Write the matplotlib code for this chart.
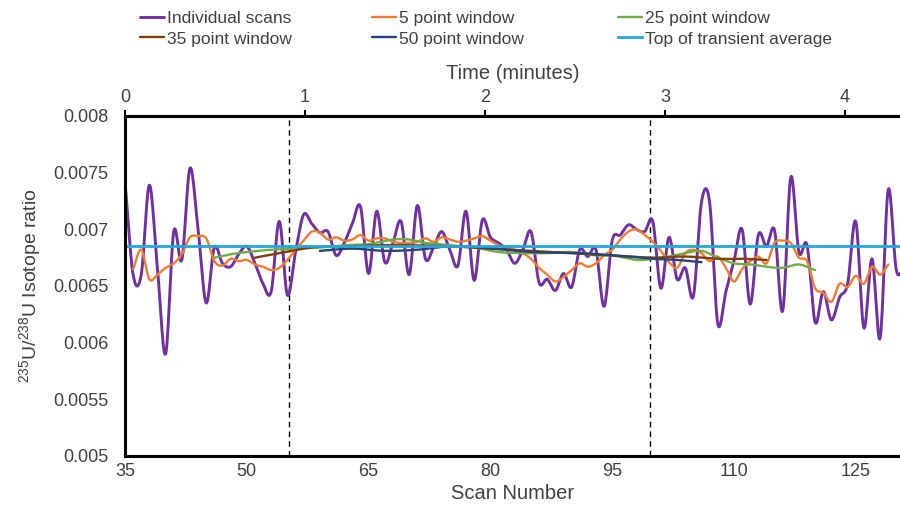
import numpy as np
import matplotlib
matplotlib.use('Agg')
import matplotlib.pyplot as plt

plt.rcParams['font.family'] = ['Liberation Sans', 'DejaVu Sans']
plt.rcParams['mathtext.fontset'] = 'custom'
plt.rcParams['mathtext.rm'] = 'Liberation Sans'
plt.rcParams['mathtext.it'] = 'Liberation Sans:italic'

TEXT = '#404040'

# --- data: 235U/238U ratio per scan ---
SCAN_START = 35
individual_scans = [
    0.00742, 0.00660, 0.00660, 0.00739, 0.00665, 0.00590, 0.00698, 0.00673, 0.00754, 0.00700,  # 35-44
    0.00635, 0.00684, 0.00670, 0.00667, 0.00678, 0.00685, 0.00670, 0.00652, 0.00645, 0.00707,  # 45-54
    0.00642, 0.00680, 0.00713, 0.00705, 0.00697, 0.00698, 0.00677, 0.00688, 0.00705, 0.00720,  # 55-64
    0.00661, 0.00716, 0.00671, 0.00688, 0.00707, 0.00660, 0.00721, 0.00674, 0.00684, 0.00698,  # 65-74
    0.00682, 0.00668, 0.00716, 0.00655, 0.00708, 0.00693, 0.00688, 0.00682, 0.00670, 0.00682,  # 75-84
    0.00698, 0.00653, 0.00656, 0.00646, 0.00661, 0.00649, 0.00682, 0.00676, 0.00682, 0.00632,  # 85-94
    0.00690, 0.00695, 0.00704, 0.00700, 0.00698, 0.00707, 0.00648, 0.00693, 0.00656, 0.00666,  # 95-104
    0.00641, 0.00724, 0.00724, 0.00617, 0.00645, 0.00672, 0.00700, 0.00634, 0.00695, 0.00685,  # 105-114
    0.00699, 0.00628, 0.00746, 0.00680, 0.00686, 0.00618, 0.00645, 0.00620, 0.00640, 0.00652,  # 115-124
    0.00707, 0.00613, 0.00674, 0.00604, 0.00735, 0.00664, 0.00668,                             # 125-131
]

# 5 point moving window, scans 36-129
W5_START = 36
window_5 = [
    0.00665, 0.00682, 0.00656, 0.00660, 0.00666, 0.00670, 0.00678, 0.00693, 0.00694, 0.00692,  # 36-45
    0.00672, 0.00668, 0.00674, 0.00672, 0.00673, 0.00669, 0.00667, 0.00664, 0.00666, 0.00673,  # 46-55
    0.00682, 0.00690, 0.00698, 0.00697, 0.00691, 0.00693, 0.00690, 0.00691, 0.00695, 0.00690,  # 56-65
    0.00692, 0.00692, 0.00689, 0.00688, 0.00688, 0.00689, 0.00692, 0.00689, 0.00693, 0.00691,  # 66-75
    0.00689, 0.00690, 0.00692, 0.00694, 0.00690, 0.00686, 0.00684, 0.00682, 0.00679, 0.00674,  # 76-85
    0.00666, 0.00660, 0.00654, 0.00658, 0.00664, 0.00670, 0.00667, 0.00670, 0.00677, 0.00682,  # 86-95
    0.00691, 0.00698, 0.00700, 0.00695, 0.00689, 0.00681, 0.00671, 0.00666, 0.00679, 0.00682,  # 96-105
    0.00679, 0.00672, 0.00676, 0.00666, 0.00654, 0.00665, 0.00672, 0.00676, 0.00670, 0.00688,  # 106-115
    0.00690, 0.00688, 0.00675, 0.00672, 0.00648, 0.00644, 0.00636, 0.00652, 0.00649, 0.00659,  # 116-125
    0.00652, 0.00667, 0.00660, 0.00669,                                                        # 126-129
]

# wider windows are smooth, so a few scans are enough
w25_scans = [46, 48, 50, 53, 56, 59, 62, 65, 68, 70, 72, 75, 78, 81, 84, 87, 90, 93, 95,
             98, 100, 102, 104, 106, 108, 110, 112, 114, 116, 118, 120]
window_25 = [0.00675, 0.00678, 0.00680, 0.00682, 0.00683, 0.00684, 0.00686, 0.00687, 0.00691,
             0.00691, 0.00688, 0.00686, 0.00684, 0.00680, 0.00679, 0.00679, 0.00680, 0.00677,
             0.00677, 0.00673, 0.00674, 0.00676, 0.00679, 0.00681, 0.00675, 0.00670, 0.00669,
             0.00667, 0.00666, 0.00669, 0.00664]

w35_scans = [51, 54, 58, 62, 66, 70, 75, 80, 85, 90, 95, 100, 104, 108, 111, 114]
window_35 = [0.00675, 0.00679, 0.00684, 0.00685, 0.00686, 0.00686, 0.00685, 0.00683, 0.00681,
             0.00679, 0.00677, 0.00675, 0.00676, 0.00674, 0.00674, 0.00673]

w50_scans = [59, 63, 67, 71, 75, 79, 85, 91, 97, 100, 103, 106]
window_50 = [0.00681, 0.00683, 0.00681, 0.00682, 0.00685, 0.00684, 0.00680, 0.00679, 0.00676,
             0.00674, 0.00673, 0.00671]

transient_avg = 0.00685
transient_bounds = [55.2, 99.7]   # scan numbers bracketing the transient top

SCANS_PER_MIN = 22.17
X_MAX = 130.45
time_ticks = [0, 1, 2, 3, 4]
scan_ticks = [35, 50, 65, 80, 95, 110, 125]
ratio_ticks = [0.005, 0.0055, 0.006, 0.0065, 0.007, 0.0075, 0.008]
ratio_labels = ['0.005', '0.0055', '0.006', '0.0065', '0.007', '0.0075', '0.008']


def smooth_line(x, y, steps=16):
    """Catmull-Rom curve through the points (like a spreadsheet 'smoothed line')."""
    x = np.asarray(x, float)
    y = np.asarray(y, float)
    px = np.concatenate([[2 * x[0] - x[1]], x, [2 * x[-1] - x[-2]]])
    py = np.concatenate([[2 * y[0] - y[1]], y, [2 * y[-1] - y[-2]]])
    t = np.linspace(0, 1, steps, endpoint=False)
    xs, ys = [], []
    for i in range(1, len(px) - 2):
        for p, out in ((px, xs), (py, ys)):
            p0, p1, p2, p3 = p[i - 1], p[i], p[i + 1], p[i + 2]
            out.append(0.5 * (2 * p1 + (-p0 + p2) * t
                              + (2 * p0 - 5 * p1 + 4 * p2 - p3) * t ** 2
                              + (-p0 + 3 * p1 - 3 * p2 + p3) * t ** 3))
    xs.append([x[-1]])
    ys.append([y[-1]])
    return np.concatenate(xs), np.concatenate(ys)


fig = plt.figure(figsize=(9, 5.14), dpi=100)
ax = fig.add_axes([125 / 900, 58 / 514, 775 / 900, 340 / 514])

scans = np.arange(SCAN_START, SCAN_START + len(individual_scans))
w5 = np.arange(W5_START, W5_START + len(window_5))

series = [
    (scans, individual_scans, '#7030a0', 2.1, 'Individual scans'),
    (w5, window_5, '#ed7d31', 1.7, '5 point window'),
    (w25_scans, window_25, '#70ad47', 1.7, '25 point window'),
    (w35_scans, window_35, '#843c0c', 1.7, '35 point window'),
    (w50_scans, window_50, '#264478', 1.7, '50 point window'),
]
handles = {}
for x, y, color, lw, label in series:
    sx, sy = smooth_line(x, y)
    handles[label], = ax.plot(sx, sy, color=color, lw=lw, label=label,
                              solid_capstyle='round')

handles['Top of transient average'] = ax.axhline(
    transient_avg, color='#22a7dc', lw=2.0, label='Top of transient average')

for xb in transient_bounds:
    ax.axvline(xb, color='black', lw=1.0, ls=(0, (4, 3)), zorder=1)

ax.set_xlim(SCAN_START, X_MAX)
ax.set_ylim(0.005, 0.008)
ax.set_xticks(scan_ticks)
ax.set_yticks(ratio_ticks)
ax.set_yticklabels(ratio_labels)
ax.tick_params(axis='both', length=0, labelsize=13, colors=TEXT)
ax.tick_params(axis='y', pad=12)
ax.tick_params(axis='x', pad=5)
for side in ('left', 'bottom', 'top'):
    ax.spines[side].set_linewidth(2.2)
    ax.spines[side].set_color('black')
ax.spines['right'].set_visible(False)

ax.set_xlabel('Scan Number', fontsize=14.5, color=TEXT, labelpad=3)
ax.set_ylabel(r'$^{235}$U/$^{238}$U Isotope ratio', fontsize=14, color=TEXT, labelpad=7)

top = ax.secondary_xaxis('top', functions=(lambda s: (s - SCAN_START) / SCANS_PER_MIN,
                                           lambda m: m * SCANS_PER_MIN + SCAN_START))
top.set_xticks(time_ticks)
top.tick_params(length=4, width=1.5, labelsize=13, colors='black', labelcolor=TEXT, pad=3)
top.spines['top'].set_linewidth(2.2)
top.set_xlabel('Time (minutes)', fontsize=14.5, color=TEXT, labelpad=7.5)

# legend: three columns, two rows
columns = [['Individual scans', '35 point window'],
           ['5 point window', '50 point window'],
           ['25 point window', 'Top of transient average']]
for i, labels in enumerate(columns):
    fig.legend([handles[l] for l in labels], labels,
               loc='upper left', bbox_to_anchor=([140, 372, 618][i] / 900, 1 - 11 / 514),
               frameon=False, fontsize=12.5, handlelength=1.4, handletextpad=0.15,
               labelspacing=0.3, borderaxespad=0, borderpad=0, labelcolor=TEXT)

fig.savefig('out.png', dpi=100)
